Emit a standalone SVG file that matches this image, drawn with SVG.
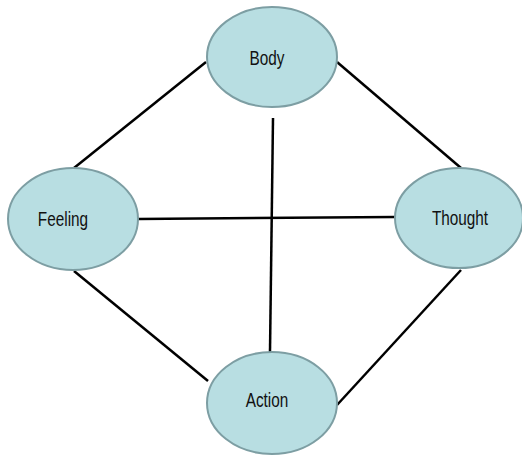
<svg xmlns="http://www.w3.org/2000/svg" width="522" height="457" viewBox="0 0 522 457">
<style>
.n{fill:#b8dee2;stroke:#7d9ea3;stroke-width:2}
.c line{stroke:#000;stroke-width:2.5}
text{font-family:"Liberation Sans",Arial,sans-serif;font-size:21px;fill:#111;text-anchor:middle}
</style>
<rect width="522" height="457" fill="#fff"/>
<g class="c" id="connectors">
<line x1="206" y1="62" x2="74" y2="168"/>
<line x1="337" y1="62" x2="461" y2="168"/>
<line x1="74" y1="271" x2="208" y2="381"/>
<line x1="461" y1="270" x2="337" y2="405"/>
<line x1="273" y1="118" x2="270" y2="352"/>
<line x1="138" y1="219" x2="395" y2="217"/>
</g>
<g id="body"><ellipse class="n" cx="272" cy="57" rx="65" ry="50"/><text transform="translate(267,65) scale(0.73,1)">Body</text></g>
<g id="feeling"><ellipse class="n" cx="73" cy="219" rx="65" ry="51"/><text transform="translate(63,226) scale(0.73,1)">Feeling</text></g>
<g id="thought"><ellipse class="n" cx="459" cy="218" rx="64" ry="50"/><text transform="translate(460,225) scale(0.73,1)">Thought</text></g>
<g id="action"><ellipse class="n" cx="272" cy="403" rx="65" ry="51"/><text transform="translate(267,407) scale(0.73,1)">Action</text></g>
</svg>
